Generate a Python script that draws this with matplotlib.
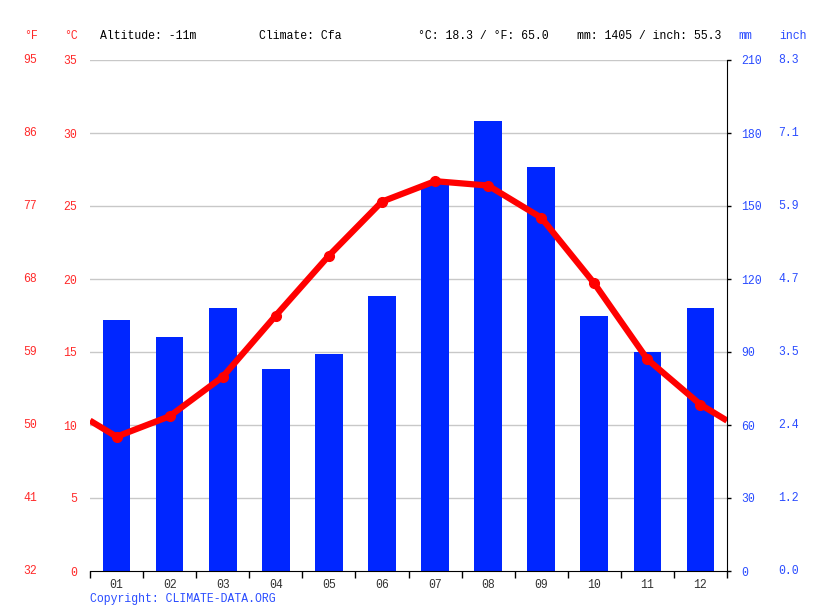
import matplotlib.pyplot as plt
import matplotlib.transforms as mtransforms
import numpy as np

plt.rcParams['font.family'] = ['Liberation Mono', 'DejaVu Sans Mono']
plt.rcParams['font.size'] = 8.3

# Daten
months = ['01', '02', '03', '04', '05', '06', '07', '08', '09', '10', '11', '12']
temp_c = [9.2, 10.6, 13.3, 17.5, 21.6, 25.3, 26.7, 26.4, 24.2, 19.7, 14.5, 11.4]
precip_mm = [103, 96, 108, 83, 89, 113, 159, 185, 166, 105, 90, 108]
c_ticks = [0, 5, 10, 15, 20, 25, 30, 35]
f_labels = ['32', '41', '50', '59', '68', '77', '86', '95']
mm_ticks = [0, 30, 60, 90, 120, 150, 180, 210]
inch_labels = ['0.0', '1.2', '2.4', '3.5', '4.7', '5.9', '7.1', '8.3']

red = '#ff0000'
blue = '#0026ff'
lab_red = '#ff2a2a'
lab_blue = '#2a4cff'

fig = plt.figure(figsize=(8.15, 6.11), dpi=100)
ax = fig.add_axes([90/815, 1 - 571/611, (727 - 90)/815, (571 - 60)/611])
ax2 = ax.twinx()

x = np.arange(len(months))

# Niederschlag (Balken) auf ax, mit Gitter dahinter
ax.set_zorder(0)
for m in mm_ticks[1:]:
    ax.axhline(m, color='#c8c8c8', lw=1, zorder=1)
ax.bar(x, precip_mm, width=0.52, color=blue, zorder=2)
ax.set_xlim(-0.5, 11.5)
ax.set_ylim(0, 210)

# Temperaturlinie mit Randwerten (Mittel Dez/Jan)
edge = (temp_c[0] + temp_c[-1]) / 2
lx = np.concatenate([[-0.5], x, [11.5]])
ly = np.concatenate([[edge], temp_c, [edge]])
ax2.plot(lx, ly, color=red, lw=4.5, solid_capstyle='butt', zorder=5)
ax2.plot(x, temp_c, 'o', color=red, ms=7, zorder=6)
ax2.set_ylim(0, 35)
ax2.set_zorder(1)
ax2.patch.set_visible(False)

# Achsen
for a in (ax, ax2):
    for s in ('left', 'top'):
        a.spines[s].set_visible(False)
ax2.spines['right'].set_visible(False)
ax2.spines['bottom'].set_visible(False)
ax.spines['right'].set_color('black')
ax.spines['bottom'].set_color('black')

# mm-Achse rechts
ax.yaxis.tick_right()
ax.set_yticks(mm_ticks)
ax.set_yticklabels([str(m) for m in mm_ticks], color=lab_blue)
ax.tick_params(axis='y', direction='out', length=3, pad=7, width=1)

# Monats-Ticks
ax.set_xticks(x)
ax.set_xticklabels(months, color='#333333')
ax.tick_params(axis='x', length=0, pad=6)
ax.set_xticks(np.arange(-0.5, 12.0, 1.0), minor=True)
ax.tick_params(axis='x', which='minor', length=5, width=1, direction='out')

# °C links
ax2.yaxis.tick_left()
ax2.set_yticks(c_ticks)
ax2.set_yticklabels([str(c) for c in c_ticks], color=lab_red)
ax2.tick_params(axis='y', length=0, pad=9.5)

# °F und inch Beschriftungen
trans_l = mtransforms.blended_transform_factory(fig.transFigure, ax2.transData)
for c, f in zip(c_ticks, f_labels):
    ax2.text(37/815, c, f, transform=trans_l, ha='right', va='center',
             color=lab_red, clip_on=False)
trans_r = mtransforms.blended_transform_factory(fig.transFigure, ax.transData)
for m, i in zip(mm_ticks, inch_labels):
    ax.text(778/815, m, i, transform=trans_r, ha='left', va='center',
            color=lab_blue, clip_on=False)

# Kopfzeile
hy = 1 - 36/611
fig.text(24/815, hy, '°F', color=lab_red, va='center')
fig.text(64/815, hy, '°C', color=lab_red, va='center')
fig.text(100/815, hy, 'Altitude: -11m', color='black', va='center')
fig.text(259/815, hy, 'Climate: Cfa', color='black', va='center')
fig.text(418/815, hy, '°C: 18.3 / °F: 65.0', color='black', va='center')
fig.text(721/815, hy, 'mm: 1405 / inch: 55.3', color='black', va='center', ha='right')
fig.text(738/815, hy, 'mm', color=lab_blue, va='center')
fig.text(779/815, hy, 'inch', color=lab_blue, va='center')
fig.text(90/815, 1 - 599/611, 'Copyright: CLIMATE-DATA.ORG', color=lab_blue, va='center')

plt.savefig('out.png', dpi=100)
plt.close()
